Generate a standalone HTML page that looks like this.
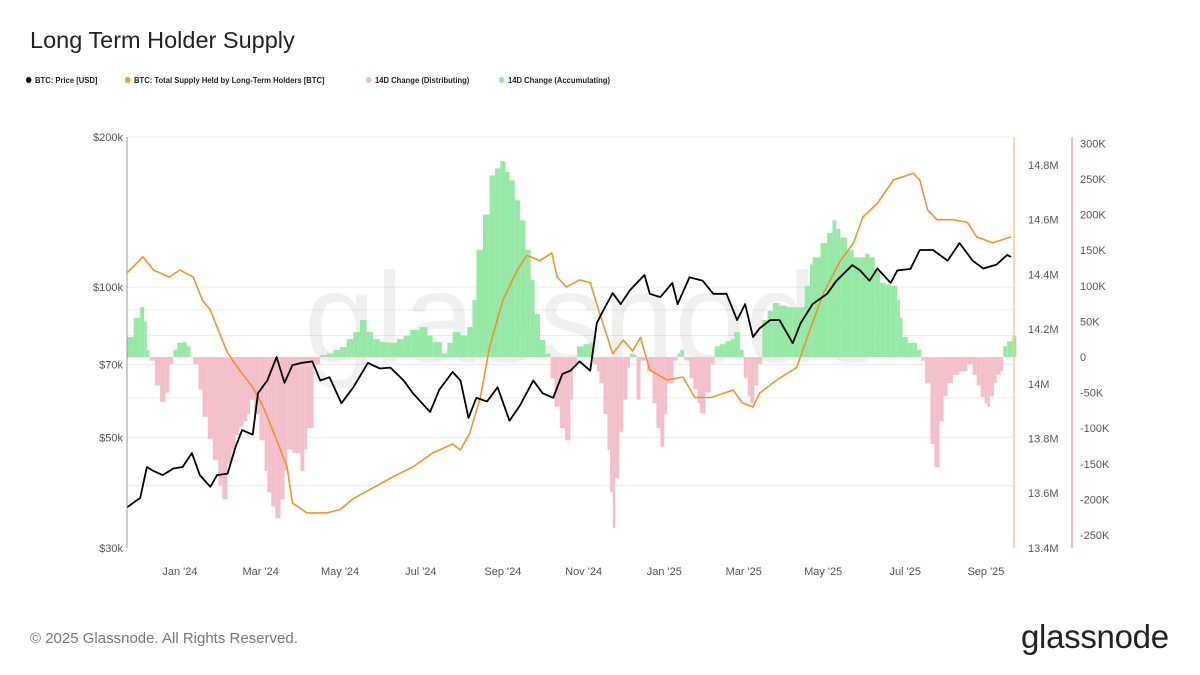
<!DOCTYPE html>
<html><head><meta charset="utf-8">
<style>
body{margin:0;background:#fff;}
#wrap{position:relative;width:1200px;height:675px;overflow:hidden;font-family:"Liberation Sans",sans-serif;background:#fff;}
.title{position:absolute;left:30px;top:27px;font-size:23.5px;color:#222;}
.leg{position:absolute;top:75px;font-size:8.5px;font-weight:bold;color:#222;white-space:nowrap;transform:scaleX(0.9);transform-origin:left;}
.leg i{display:inline-block;width:6px;height:6px;border-radius:50%;margin-right:4px;vertical-align:0px;}
.foot{position:absolute;left:30px;top:630px;font-size:15px;color:#777;}
.logo{position:absolute;left:1021px;top:618px;font-size:33px;color:#222;letter-spacing:-0.3px;}
</style></head>
<body>
<div id="wrap">
<div class="title">Long Term Holder Supply</div>
<div class="leg" style="left:26px"><i style="background:#000"></i>BTC: Price [USD]</div>
<div class="leg" style="left:125px"><i style="background:#f39325"></i>BTC: Total Supply Held by Long-Term Holders [BTC]</div>
<div class="leg" style="left:366px"><i style="background:#f0b8c4"></i>14D Change (Distributing)</div>
<div class="leg" style="left:499px"><i style="background:#8fe6a0"></i>14D Change (Accumulating)</div>
<svg id="chart" width="1200" height="675" style="position:absolute;left:0;top:0"></svg>
<div class="foot">© 2025 Glassnode. All Rights Reserved.</div>
<div class="logo">glassnode</div>
</div>
<script>
// days since 2023-11-22
const priceDays=[0,10,15,20,27,35,42,49,55,63,68,76,82,87,95,99,106,113,119,125,132,140,146,153,162,171,182,191,199,209,216,229,236,246,252,258,264,272,280,289,297,307,314,322,329,335,342,350,355,360,367,373,380,391,395,403,412,416,425,435,443,453,461,467,473,478,486,493,503,509,518,529,536,548,554,561,567,577,582,592,599,609,620,629,639,647,657,665,668];
const priceK=[36.2,37.8,43.6,42.8,42,43.3,43.6,46.5,42,39.8,42,42.3,47.8,51.7,50.6,61.3,65,72.4,64.3,69.8,70.5,71,65,66,58.5,63,70.5,68.7,69,65,61.3,56.2,62.3,67.6,65,54.7,60,59,63,54,58,65,61.3,60,67,68,71,68,84.7,90,97.3,92.5,98.6,105.8,97,95.5,102,92.5,104.7,103,97,97,85.9,92.5,79.4,82.7,85.9,85.9,77.2,84.7,92.5,97,103,110.7,108,103,109,102,108,108.8,118.7,118.7,113,122.6,113,109,111,116,115];
const supplyDays=[0,12,20,32,40,50,57,63,68,76,85,95,103,113,121,125,136,151,161,171,186,201,216,231,246,252,259,267,274,284,295,302,312,321,325,332,342,350,357,367,375,382,388,395,408,420,429,441,458,465,473,478,491,506,514,526,539,549,556,567,579,594,599,605,612,624,635,642,654,668];
const supplyM=[14.405,14.464,14.416,14.39,14.416,14.39,14.306,14.27,14.208,14.113,14.05,13.988,13.915,13.795,13.696,13.564,13.528,13.528,13.54,13.58,13.62,13.66,13.696,13.747,13.78,13.758,13.82,13.95,14.135,14.306,14.416,14.47,14.45,14.478,14.39,14.354,14.38,14.37,14.26,14.11,14.16,14.12,14.17,14.05,14.014,14.025,13.95,13.95,13.977,13.93,13.915,13.966,14.014,14.06,14.17,14.33,14.45,14.515,14.61,14.66,14.745,14.77,14.745,14.635,14.6,14.6,14.59,14.537,14.515,14.537];
const changeDays=[0,5,10,13,15,17,21,25,29,32,35,38,42,45,48,50,54,57,61,65,69,72,76,79,82,85,88,91,93,96,100,104,106,109,112,116,119,121,125,131,134,136,141,146,151,156,161,166,171,176,181,186,191,196,204,209,214,221,227,231,238,242,246,252,257,261,264,269,274,278,282,286,289,293,297,301,305,308,312,316,320,323,327,331,335,337,340,345,350,352,355,357,360,363,365,367,369,372,375,378,380,383,385,388,393,397,400,403,406,408,413,416,418,421,425,428,431,433,437,441,444,448,452,456,459,463,466,469,471,474,477,480,484,488,493,499,503,509,512,516,518,524,529,533,536,539,544,549,554,558,561,565,569,573,577,582,584,586,590,594,597,600,603,607,610,614,617,620,624,629,635,639,642,645,648,650,652,655,657,660,662,665,669];
const changeK=[28,55,70,50,10,-5,-40,-63,-50,-10,10,20,21,15,0,-10,-45,-84,-115,-145,-180,-200,-150,-130,-110,-98,-90,-80,-60,-80,-117,-160,-190,-210,-226,-200,-160,-130,-135,-160,-130,-100,-10,3,5,10,14,25,35,52,35,25,21,20,25,30,38,42,30,21,5,20,35,30,42,80,150,200,255,265,275,260,248,220,192,150,108,60,24,5,-30,-70,-100,-117,-60,-10,15,18,20,-10,-20,-37,-80,-130,-190,-240,-170,-105,-60,-15,5,3,-60,-5,-20,-65,-100,-126,-80,-37,-5,5,10,-5,-30,-45,-65,-79,-50,-10,15,18,22,25,35,10,-30,-55,-65,-40,-10,52,65,76,72,70,70,70,100,130,140,160,174,192,180,168,150,140,140,145,140,120,104,102,100,80,55,28,20,20,10,-5,-37,-122,-155,-90,-55,-37,-25,-20,-10,-25,-40,-56,-65,-70,-55,-37,-25,-20,15,22,30];
const xTickLabels=["Jan '24","Mar '24","May '24","Jul '24","Sep '24","Nov '24","Jan '25","Mar '25","May '25","Jul '25","Sep '25"];
const xTickDays=[40,101,161,222,284,345,406,466,526,588,649];
const priceTicks=[30,50,70,100,200];
const priceGrid=[40,50,60,70,80,90,100,200];
const supplyTicks=[13.4,13.6,13.8,14.0,14.2,14.4,14.6,14.8];
const changeTicks=[300,250,200,150,100,50,0,-50,-100,-150,-200,-250];

const NS='http://www.w3.org/2000/svg';
const svg=document.getElementById('chart');
const L=127,R=1013,T=137,B=548;
const xS=d=>L+d*1.3235;
const yP=v=>B-Math.log(v/30)/Math.log(200/30)*(B-T);
const yS=v=>165+(14.8-v)/0.2*54.7;
const yC=v=>357-v/50*35.6;
function mk(tag,attrs){const e=document.createElementNS(NS,tag);for(const k in attrs)e.setAttribute(k,attrs[k]);svg.appendChild(e);return e;}

priceGrid.forEach(v=>{const g=mk('line',{x1:L,x2:R,y1:yP(v),y2:yP(v),stroke:'#ececec','stroke-width':1});

});

const wm=mk('text',{x:596,y:362,'text-anchor':'middle','font-size':128,fill:'#000','fill-opacity':0.06,'font-family':'Liberation Sans, sans-serif'});
wm.textContent='glassnode';



for(let i=0;i<changeDays.length;i++){
  const d0=changeDays[i],d1=i<changeDays.length-1?changeDays[i+1]:d0+3;
  const v=changeK[i];const y0=yC(0),y1=yC(v);
  const r=mk('rect',{x:xS(d0),y:Math.min(y0,y1),width:Math.max(0.5,xS(d1)-xS(d0)),height:Math.abs(y1-y0),fill:v>=0?'#96e9a5':'#f2bfca'});
  
  
}

const sp=mk('path',{d:supplyDays.map((d,i)=>(i?'L':'M')+xS(d).toFixed(1)+' '+yS(supplyM[i]).toFixed(1)).join(''),fill:'none',stroke:'#f39325','stroke-width':1.6,'stroke-linejoin':'round'});


const pp=mk('path',{d:priceDays.map((d,i)=>(i?'L':'M')+xS(d).toFixed(1)+' '+yP(priceK[i]).toFixed(1)).join(''),fill:'none',stroke:'#000','stroke-width':1.8,'stroke-linejoin':'round'});



const al=mk('line',{x1:L,x2:L,y1:T,y2:B,stroke:'#999','stroke-width':1});


const ar=mk('line',{x1:1014,x2:1014,y1:T,y2:B,stroke:'#f7c891','stroke-width':1.5});


const ac=mk('line',{x1:1072,x2:1072,y1:T,y2:B,stroke:'#f2bcc7','stroke-width':2});



const tf={'font-size':11,fill:'#555','font-family':'Liberation Sans, sans-serif'};
priceTicks.forEach(v=>{const t=mk('text',Object.assign({x:123,y:yP(v)+4,'text-anchor':'end'},tf));t.textContent='$'+v+'k';

});
supplyTicks.forEach(v=>{const t=mk('text',Object.assign({x:1028,y:yS(v)+4},tf));t.textContent=(v===14?'14':v.toFixed(1))+'M';

});
changeTicks.forEach(v=>{const t=mk('text',Object.assign({x:1080,y:yC(v)+4},tf));t.textContent=v===0?'0':v+'K';

});
xTickLabels.forEach((s,i)=>{const t=mk('text',Object.assign({x:xS(xTickDays[i]),y:575,'text-anchor':'middle'},tf));t.textContent=s;

});
</script>
</body></html>
